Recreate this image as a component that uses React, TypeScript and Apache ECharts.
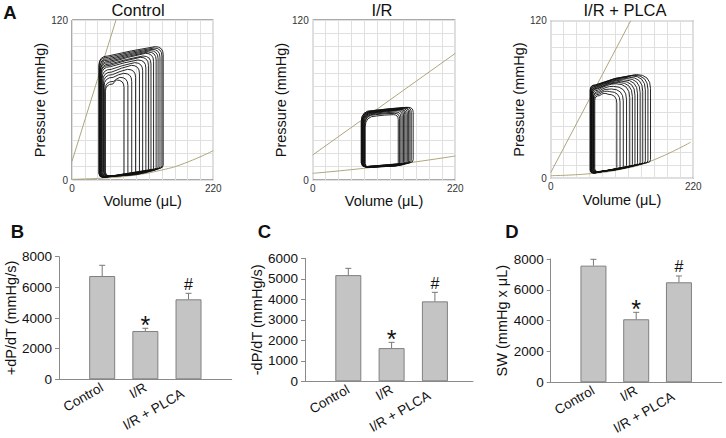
import React, { useEffect, useRef } from 'react';
import * as echarts from 'echarts';

const FONT = '"Liberation Sans", Arial, sans-serif';

// ---------- Panel A : pressure–volume loops ----------
// each loop: [ESV (µL), EDV (µL), peak P (mmHg), end-systolic P at left (mmHg), EDP (mmHg), min P (mmHg)]
const pvTitles = ['Control', 'I/R', 'I/R + PLCA'];
const volumeTickLabels = [0, 220];
const pressureTickLabels = [0, 120];

const loopsControl = [
  [42, 142, 100, 93, 9, 2],
  [42, 140, 99, 92, 8.5, 2],
  [43, 137, 98, 91, 8, 2],
  [43, 134, 97, 90, 7.5, 2],
  [44, 131, 96, 89, 7, 2],
  [44, 127, 95, 88, 6.5, 2],
  [45, 123, 93, 87, 6, 2],
  [45, 119, 92, 86, 5.5, 2.5],
  [46, 115, 90, 85, 5, 2.5],
  [47, 110, 88, 83, 4.5, 2.5],
  [48, 105, 86, 81, 4, 2.5],
  [49, 99, 83, 79, 4, 3],
  [50, 93, 80, 77, 3.5, 3],
  [51, 87, 77, 74, 3.5, 3],
  [52, 81, 75, 72, 3, 3],
];
const loopsIR = [
  [75, 155, 54.5, 52, 13, 10],
  [75, 152, 54.5, 52, 12.5, 10],
  [76, 150, 54, 51.5, 12.5, 10],
  [76, 148, 54, 51.5, 12, 10],
  [77, 146, 53.5, 51, 12, 9.5],
  [77, 144, 53, 51, 11.5, 9.5],
  [78, 142, 53, 50.5, 11.5, 9.5],
  [78, 140, 52.5, 50.5, 11, 9.5],
  [79, 138, 52, 50, 11, 9.5],
  [80, 136, 51, 49.5, 11, 9.5],
  [80, 134, 50, 49, 10.5, 9.5],
  [81, 132, 49, 48, 10.5, 9.5],
];
const loopsPLCA = [
  [61, 154, 79, 71, 12, 4],
  [61, 150, 78.5, 71, 11.5, 4],
  [62, 146, 78, 70.5, 11, 4],
  [62, 142, 77, 70, 10.5, 4],
  [63, 138, 76, 69.5, 10, 4],
  [63, 134, 75, 69, 9.5, 4],
  [64, 130, 74, 68.5, 9, 4.5],
  [64, 126, 73, 68, 8.5, 4.5],
  [65, 122, 72, 67, 8, 4.5],
  [66, 117, 70, 66, 7.5, 4.5],
  [66, 112, 68, 65, 7, 5],
  [67, 107, 66, 64, 6.5, 5],
  [68, 102, 64, 63, 6, 5],
];

const espvrControl = [[0, 14], [68.5, 120]];
const edpvrControl = [[0, 0.5], [50, 1.5], [95, 3.5], [140, 7.5], [175, 12.5], [220, 22]];
const espvrIR = [[0, 18.75], [220, 95]];
const edpvrIR = [[0, 5], [110, 10.5], [220, 18]];
const espvrPLCA = [[0, 4.3], [123.5, 120]];
const edpvrPLCA = [[0, 2], [60, 3.5], [110, 7], [154, 13], [216, 27.5]];

// ---------- Panels B–D : bar charts ----------
const categories = ['Control', 'I/R', 'I/R + PLCA'];
const categoryPositions = [1, 2, 3];
const marks = ['', '*', '#'];

const dpdtMaxMean = [6740, 3150, 5220];
const dpdtMaxErr = [700, 180, 390];
const dpdtMinMean = [5180, 1620, 3900];
const dpdtMinErr = [330, 280, 440];
const swMean = [7570, 4090, 6490];
const swErr = [410, 450, 410];

const OLIVE = '#aea67c';

const pvPanels = [
  { title: pvTitles[0], loops: loopsControl, espvr: espvrControl, edpvr: edpvrControl, left: 72, top: 20, width: 141.3, height: 160, radii: { bl: 4, br: 3, tr: 8, tl: 9 }, bulge: 1, titleX: 138 },
  { title: pvTitles[1], loops: loopsIR, espvr: espvrIR, edpvr: edpvrIR, left: 312.7, top: 20, width: 142.6, height: 160, radii: { bl: 4, br: 3, tr: 5, tl: 11 }, bulge: 0.5, titleX: 382 },
  { title: pvTitles[2], loops: loopsPLCA, espvr: espvrPLCA, edpvr: edpvrPLCA, left: 550.7, top: 20.7, width: 142.6, height: 157.6, radii: { bl: 3, br: 3, tr: 14, tl: 5 }, bulge: 3, titleX: 625 },
];

const barPanels = [
  { letter: 'B', letterX: 17.5, mean: dpdtMaxMean, err: dpdtMaxErr, yMax: 8000, yInterval: 2000, name: '+dP/dT (mmHg/s)', nameGap: 38.5, left: 59, top: 256.7, width: 172.7, height: 122.6, xMax: 4 },
  { letter: 'C', letterX: 264.5, mean: dpdtMinMean, err: dpdtMinErr, yMax: 6000, yInterval: 1000, name: '-dP/dT (mmHg/s)', nameGap: 37, left: 305, top: 258.3, width: 168, height: 123, xMax: 3.88 },
  { letter: 'D', letterX: 512, mean: swMean, err: swErr, yMax: 8000, yInterval: 2000, name: 'SW (mmHg x \u03bcL)', nameGap: 40.7, left: 550.7, top: 259, width: 171, height: 123.3, xMax: 4 },
];

function makeLoopRenderer(radii: { bl: number; br: number; tr: number; tl: number }, bulge: number) {
  return (params: any, api: any) => {
    const esv = api.value(0), edv = api.value(1), ptop = api.value(2), pes = api.value(3), edp = api.value(4), pmin = api.value(5);
    const [L, Bl] = api.coord([esv, pmin]);
    const [R, Br] = api.coord([edv, edp]);
    const T = api.coord([edv, ptop])[1];
    const Tl = api.coord([esv, pes])[1];
    const w = R - L;
    const rbl = Math.min(radii.bl, w / 3);
    const rbr = Math.min(radii.br, w / 3);
    const rtr = Math.min(radii.tr, w / 2.5, (Br - T) / 3);
    const rtl = Math.min(radii.tl, w / 2.5, (Bl - Tl) / 3);
    const x1 = R - rtr, x2 = L + rtl;
    const cx = (x1 + x2) / 2, cy = (T + Tl) / 2 - bulge;
    const d =
      `M${L},${Bl - rbl} Q${L},${Bl} ${L + rbl},${Bl} ` +
      `L${R - rbr},${Br} Q${R},${Br} ${R},${Br - rbr} ` +
      `L${R},${T + rtr} Q${R},${T} ${x1},${T} ` +
      `Q${cx},${cy} ${x2},${Tl} Q${L},${Tl} ${L},${Tl + rtl} Z`;
    return {
      type: 'path',
      shape: { pathData: d },
      style: { fill: 'none', stroke: '#111', lineWidth: 1, opacity: 0.9 },
    };
  };
}

function makeErrRenderer() {
  return (params: any, api: any) => {
    const x = api.value(0), v = api.value(1), e = api.value(2);
    const p0 = api.coord([x, v]);
    const p1 = api.coord([x, v + e]);
    const mark = marks[params.dataIndex];
    const children: any[] = [
      { type: 'line', shape: { x1: p0[0], y1: p0[1], x2: p1[0], y2: p1[1] }, style: { stroke: '#777', lineWidth: 1 } },
      { type: 'line', shape: { x1: p1[0] - 3, y1: p1[1], x2: p1[0] + 3, y2: p1[1] }, style: { stroke: '#777', lineWidth: 1 } },
    ];
    if (mark) {
      const star = mark === '*';
      children.push({
        type: 'text',
        x: p1[0],
        y: p1[1] - (star ? 3 : 9),
        style: { text: mark, fontSize: star ? 25 : 16, fontFamily: FONT, fill: '#111', align: 'center', verticalAlign: 'middle' },
      });
    }
    return { type: 'group', children };
  };
}

function buildOption() {
  const grid: any[] = [];
  const xAxis: any[] = [];
  const yAxis: any[] = [];
  const series: any[] = [];
  const graphic: any[] = [];
  const nameStyle = { fontSize: 14.5, color: '#111', fontFamily: FONT };

  pvPanels.forEach((p, i) => {
    grid.push({ left: p.left, top: p.top, width: p.width, height: p.height, outerBoundsMode: 'none', containLabel: false, show: true, borderColor: '#555', borderWidth: 1, backgroundColor: 'transparent' });
    xAxis.push({
      type: 'value', gridIndex: i, min: 0, max: 220, interval: 20,
      axisLine: { show: false }, axisTick: { show: false },
      splitLine: { show: true, lineStyle: { color: '#e0e0e0', width: 1 } },
      axisLabel: { fontSize: 10, color: '#333', margin: 3, fontFamily: FONT, formatter: (v: number) => (volumeTickLabels.includes(v) ? String(v) : '') },
      name: 'Volume (\u03bcL)', nameLocation: 'middle', nameGap: 12, nameTextStyle: nameStyle,
    });
    yAxis.push({
      type: 'value', gridIndex: i, min: 0, max: 120, interval: 10,
      axisLine: { show: false }, axisTick: { show: false },
      splitLine: { show: true, lineStyle: { color: '#e0e0e0', width: 1 } },
      axisLabel: { fontSize: 10, color: '#333', margin: 4, fontFamily: FONT, formatter: (v: number) => (pressureTickLabels.includes(v) ? String(v) : '') },
      name: 'Pressure (mmHg)', nameLocation: 'middle', nameGap: 10.5, nameTextStyle: nameStyle,
    });
    series.push({ type: 'line', xAxisIndex: i, yAxisIndex: i, data: p.espvr, showSymbol: false, silent: true, lineStyle: { color: OLIVE, width: 1 }, z: 2 });
    series.push({ type: 'line', xAxisIndex: i, yAxisIndex: i, data: p.edpvr, smooth: true, showSymbol: false, silent: true, lineStyle: { color: OLIVE, width: 1 }, z: 2 });
    series.push({ type: 'custom', xAxisIndex: i, yAxisIndex: i, data: p.loops, renderItem: makeLoopRenderer(p.radii, p.bulge), silent: true, z: 3 });
    graphic.push({ type: 'text', x: p.titleX, y: 9.5, style: { text: p.title, fontSize: 16.5, fontFamily: FONT, fill: '#111', align: 'center', verticalAlign: 'middle' } });
  });
  graphic.push({ type: 'text', x: 10, y: 12, style: { text: 'A', fontSize: 18.5, fontWeight: 'bold', fontFamily: FONT, fill: '#111', align: 'center', verticalAlign: 'middle' } });

  barPanels.forEach((b, j) => {
    const i = j + 3;
    grid.push({ left: b.left, top: b.top, width: b.width, height: b.height, outerBoundsMode: 'none', containLabel: false });
    xAxis.push({
      type: 'value', gridIndex: i, min: 0, max: b.xMax, interval: 1,
      axisLine: { show: true, onZero: false, lineStyle: { color: '#8a8a8a', width: 1 } },
      axisTick: { show: false }, splitLine: { show: false },
      axisLabel: {
        rotate: 30, fontSize: 13.5, color: '#111', margin: 7, fontFamily: FONT,
        formatter: (v: number) => {
          const k = categoryPositions.indexOf(v);
          if (k < 0) return '';
          return k === 2 ? `{p|${categories[k]}}` : categories[k];
        },
        rich: { p: { fontSize: 13.5, fontFamily: FONT, color: '#111', padding: [5, 8, 0, 0] } },
      },
    });
    yAxis.push({
      type: 'value', gridIndex: i, min: 0, max: b.yMax, interval: b.yInterval,
      axisLine: { show: true, lineStyle: { color: '#8a8a8a', width: 1 } },
      axisTick: { show: true, length: 4, lineStyle: { color: '#8a8a8a' } },
      splitLine: { show: false },
      axisLabel: { fontSize: 13.5, color: '#111', margin: 7, fontFamily: FONT, formatter: (v: number) => String(v) },
      name: b.name, nameLocation: 'middle', nameGap: b.nameGap, nameTextStyle: nameStyle,
    });
    series.push({
      type: 'bar', xAxisIndex: i, yAxisIndex: i, barWidth: 26, silent: true,
      data: categoryPositions.map((x, k) => [x, b.mean[k]]),
      itemStyle: { color: '#c4c4c4', borderColor: '#808080', borderWidth: 1 },
    });
    series.push({
      type: 'custom', xAxisIndex: i, yAxisIndex: i, silent: true, z: 5,
      data: categoryPositions.map((x, k) => [x, b.mean[k], b.err[k]]),
      renderItem: makeErrRenderer(),
    });
    graphic.push({ type: 'text', x: b.letterX, y: 231, style: { text: b.letter, fontSize: 18.5, fontWeight: 'bold', fontFamily: FONT, fill: '#111', align: 'center', verticalAlign: 'middle' } });
  });

  return {
    animation: false,
    backgroundColor: '#fff',
    textStyle: { fontFamily: FONT },
    grid, xAxis, yAxis, series, graphic,
  };
}

export default function App() {
  const ref = useRef<HTMLDivElement>(null);
  useEffect(() => {
    if (!ref.current) return;
    const chart = echarts.init(ref.current, undefined, { renderer: 'svg' });
    chart.setOption(buildOption() as any);
    return () => chart.dispose();
  }, []);
  return <div ref={ref} style={{ position: 'fixed', left: 0, top: 0, width: 726, height: 438, background: '#fff' }} />;
}
